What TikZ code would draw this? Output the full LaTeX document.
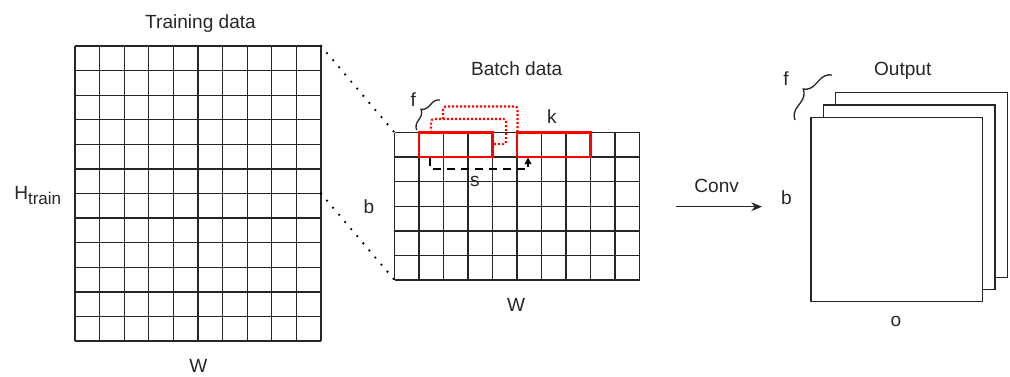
\documentclass[tikz,border=0pt]{standalone}
\usepackage{fontspec}
\setmainfont{Liberation Sans}
\usetikzlibrary{arrows.meta,decorations.pathreplacing}
\begin{document}
\begin{tikzpicture}[x=0.75pt,y=-0.75pt,
  lbl/.style={font=\fontsize{14.3}{17}\selectfont, text=black!85, inner sep=0pt, anchor=base},
  gridline/.style={line width=1pt, draw=black!85},
  redbox/.style={draw=red, line width=1.6pt},
  reddot/.style={draw=red, line width=1.6pt, dash pattern=on 1.5pt off 1.5pt, rounded corners=2pt},
  blackdot/.style={draw=black, line width=1.9pt, line cap=round, dash pattern=on 0pt off 7pt},
  blackdash/.style={draw=black, line width=1.5pt, dash pattern=on 6pt off 4.5pt},
  plate/.style={draw=black!85, fill=white, line width=1pt},
  bracestyle/.style={decorate, decoration={brace, amplitude=#1}, line width=1pt, draw=black!85}]
\useasboundingbox (0,0) rectangle (1010,376);

% training grid
\foreach \i in {0,...,10} \draw[gridline] ({75+24.6*\i},46) -- ({75+24.6*\i},341);
\foreach \j in {0,...,12} \draw[gridline] (75,{46+24.583*\j}) -- (321,{46+24.583*\j});
\coordinate (trTR) at (321,46);
\coordinate (trMR) at (321,193.5);

% batch grid
\foreach \i in {0,...,10} \draw[gridline] ({394.5+24.5*\i},132.5) -- ({394.5+24.5*\i},280);
\foreach \j in {0,...,6} \draw[gridline] (394.5,{132.5+24.583*\j}) -- (639.5,{132.5+24.583*\j});
\coordinate (baTL) at (394.5,132.5);
\coordinate (baBL) at (394.5,280);

% zoom connectors
\draw[blackdot] (trTR) -- (baTL);
\draw[blackdot] (trMR) -- (baBL);

% red kernels
\draw[redbox] (419,132.5) rectangle (492.5,157);
\draw[redbox] (517,132.5) rectangle (590.5,157);
\coordinate (k1top) at (431,132.5);
\coordinate (k1right) at (492.5,144);
\coordinate (k2top) at (517.5,132.5);
\coordinate (loopstart) at (443,119);
\draw[reddot] (k1top) -- (431,119) -- (506,119) -- (506,144) -- (k1right);
\draw[reddot] (loopstart) -- (443,106.5) -- (517.5,106.5) -- (k2top);

% stride arrow
\coordinate (sA) at (430,157.5);
\coordinate (sB) at (528,157.5);
\draw[blackdash, -{Triangle[length=5pt,width=5pt]}] (sA) -- (430,169) -- (528,169) -- (sB);

% braces
\draw[bracestyle=7pt] (416.7,130) -- (440,100);
\draw[bracestyle=10pt] (795,120) -- (832,75);

% output plates
\draw[plate] (835.7,92.7) rectangle (1007.3,277.3);
\draw[plate] (823.3,105) rectangle (995,289.3);
\draw[plate] (811,117.3) rectangle (982.7,301.7);

% conv arrow
\coordinate (convA) at (676,206.7);
\coordinate (convB) at (762,206.7);
\draw[line width=1pt, draw=black!85, -{Stealth[length=8pt,width=6.5pt]}] (convA) -- (convB);

% labels
\node[lbl] (ttrain) at (200.5,28.5) {Training data};
\node[lbl] (wtrain) at (198.3,372.7) {W};
\node[lbl, anchor=base west] (htrain) at (14,199.5) {H\raisebox{-3.7pt}{\fontsize{12.8}{14}\selectfont train}};
\node[lbl] (tbatch) at (516.7,75) {Batch data};
\node[lbl] (bbatch) at (369,213.3) {b};
\node[lbl] (wbatch) at (516,311) {W};
\node[lbl] (fbatch) at (413.3,106.5) {f};
\node[lbl] (klbl) at (552,123.3) {k};
\node[lbl] (slbl) at (475,186.7) {s};
\node[lbl] (tout) at (902.7,75) {Output};
\node[lbl] (fout) at (786,85) {f};
\node[lbl] (conv) at (716.7,192.7) {Conv};
\node[lbl] (bout) at (786.3,204.3) {b};
\node[lbl] (oout) at (896,326.7) {o};
\end{tikzpicture}
\end{document}
